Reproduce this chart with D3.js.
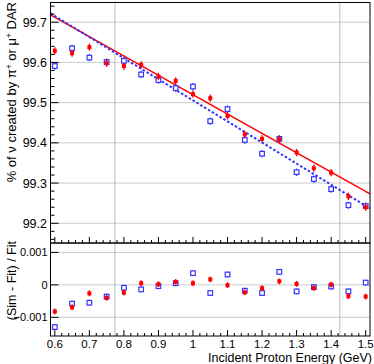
<!DOCTYPE html>
<html>
<head>
<meta charset="UTF-8">
<title>Neutrino DAR fraction vs proton energy</title>
<script src="https://cdn.jsdelivr.net/npm/d3@7/dist/d3.min.js"></script>
<style>
  body { margin: 0; background: #fff; }
  text { font-family: "Liberation Sans", Arial, sans-serif; }
</style>
</head>
<body>
<div id="chart"></div>
<script>
// incident proton energy (GeV)
var energy = [0.6, 0.65, 0.7, 0.75, 0.8, 0.85, 0.9, 0.95, 1.0, 1.05, 1.1, 1.15, 1.2, 1.25, 1.3, 1.35, 1.4, 1.45, 1.5];
// % of nu from pi+ / mu+ DAR, two simulations
var simRed  = [99.629, 99.623, 99.638, 99.598, 99.591, 99.594, 99.565, 99.554, 99.521, 99.511, 99.467, 99.421, 99.410, 99.409, 99.376, 99.337, 99.326, 99.267, 99.240];
var simBlue = [99.591, 99.635, 99.612, 99.601, 99.604, 99.570, 99.556, 99.536, 99.540, 99.454, 99.484, 99.407, 99.373, 99.410, 99.327, 99.310, 99.285, 99.245, 99.243];
var errTop = 0.009;
// linear fit end points
var fitX    = [0.5875, 1.5125];
var fitRed  = [99.718, 99.273];
var fitBlue = [99.722, 99.237];
// (Sim - Fit) / Fit
var resRed  = [-0.00082, -0.00069, -0.00026, -0.00040, -0.00024, 0.00005, 0.00002, 0.00009, 0.00005, 0.00017, -0.00001, -0.00023, -0.00010, 0.00011, 0.00003, -0.00010, 0.00001, -0.00035, -0.00036];
var resBlue = [-0.00130, -0.00058, -0.00055, -0.00036, -0.00009, -0.00014, -0.00004, 0.00005, 0.00036, -0.00025, 0.00032, -0.00018, -0.00025, 0.00040, -0.00020, -0.00007, -0.00005, -0.00020, 0.00007];
var errRes = 0.00009;
// tick labels
var xTicks = [0.6, 0.7, 0.8, 0.9, 1.0, 1.1, 1.2, 1.3, 1.4, 1.5];
var yTopTicks = [99.2, 99.3, 99.4, 99.5, 99.6, 99.7];
var yResTicks = [-0.001, 0, 0.001];
var yResLabels = ["\u22120.001", "0", "0.001"];
// light vertical lines
var vLines = [0.774, 1.425];

var W = 374, H = 364;
var L = 50.5, R = 370, T1 = 2.5, B1 = 243, T2 = 243, B2 = 336;
var RED = "#ff0000", BLUE = "#3434ff";

var svg = d3.select("#chart").append("svg").attr("width", W).attr("height", H);

var x = d3.scaleLinear().domain([0.5875, 1.5125]).range([L, R]);
var yTop = d3.scaleLinear().domain([99.151, 99.749]).range([B1, T1]);
var yRes = d3.scaleLinear().domain([-0.001575, 0.00129]).range([B2, T2]);

//vertical light lines through both pads
svg.selectAll(".vline").data(vLines).enter().append("line")
   .attr("x1", d => x(d)).attr("x2", d => x(d))
   .attr("y1", T1).attr("y2", B2)
   .attr("stroke", "#c8c8c8").attr("stroke-width", 1.2);

//horizontal dotted grids
svg.selectAll(".gtop").data(yTopTicks).enter().append("line")
   .attr("x1", L).attr("x2", R)
   .attr("y1", d => yTop(d)).attr("y2", d => yTop(d))
   .attr("stroke", "#999").attr("stroke-width", 1).attr("stroke-dasharray", "1,1");
svg.selectAll(".gres").data(yResTicks).enter().append("line")
   .attr("x1", L).attr("x2", R)
   .attr("y1", d => yRes(d)).attr("y2", d => yRes(d))
   .attr("stroke", "#999").attr("stroke-width", 1).attr("stroke-dasharray", "1,1");

//fit lines
var fitLine = d3.line().x(d => x(d[0])).y(d => yTop(d[1]));
svg.append("path").datum(d3.zip(fitX, fitRed)).attr("d", fitLine)
   .attr("fill", "none").attr("stroke", RED).attr("stroke-width", 1.5);
svg.append("path").datum(d3.zip(fitX, fitBlue)).attr("d", fitLine)
   .attr("fill", "none").attr("stroke", BLUE).attr("stroke-width", 2)
   .attr("stroke-dasharray", "2.5,2");

//markers with error bars
function drawPoints(vals, err, yScale, color, open) {
  var g = svg.append("g");
  var pts = d3.zip(energy, vals);
  g.selectAll("line").data(pts).enter().append("line")
   .attr("x1", d => x(d[0])).attr("x2", d => x(d[0]))
   .attr("y1", d => yScale(d[1] - err)).attr("y2", d => yScale(d[1] + err))
   .attr("stroke", color).attr("stroke-width", 1.3);
  if (open) {
    g.selectAll("rect").data(pts).enter().append("rect")
     .attr("x", d => x(d[0]) - 2.3).attr("y", d => yScale(d[1]) - 2.3)
     .attr("width", 4.6).attr("height", 4.6)
     .attr("fill", "#fff").attr("stroke", color).attr("stroke-width", 1.2);
  } else {
    g.selectAll("rect").data(pts).enter().append("rect")
     .attr("x", d => x(d[0]) - 2).attr("y", d => yScale(d[1]) - 2)
     .attr("width", 4).attr("height", 4)
     .attr("fill", color);
  }
}
drawPoints(simBlue, errTop, yTop, BLUE, true);
drawPoints(simRed, errTop, yTop, RED, false);
drawPoints(resBlue, errRes, yRes, BLUE, true);
drawPoints(resRed, errRes, yRes, RED, false);

//frames
svg.append("rect").attr("x", L).attr("y", T1).attr("width", R - L).attr("height", B1 - T1)
   .attr("fill", "none").attr("stroke", "#000").attr("stroke-width", 1);
svg.append("rect").attr("x", L).attr("y", T2).attr("width", R - L).attr("height", B2 - T2)
   .attr("fill", "none").attr("stroke", "#000").attr("stroke-width", 1);

//x ticks on both pads (pointing up)
var xMinor = d3.range(30, 76, 1).map(d => d / 50).filter(d => d >= 0.59 && d <= 1.51);
[B1, B2].forEach(function (yb) {
  svg.append("g").selectAll("line").data(xMinor).enter().append("line")
     .attr("x1", d => x(d)).attr("x2", d => x(d))
     .attr("y1", yb).attr("y2", d => yb - (Math.abs(d * 10 - Math.round(d * 10)) < 1e-6 ? 6 : 3))
     .attr("stroke", "#000").attr("stroke-width", 1);
});

//y ticks top pad
var yMinor = d3.range(99.16, 99.75, 0.02).map(d => +d.toFixed(2));
svg.append("g").selectAll("line").data(yMinor).enter().append("line")
   .attr("x1", L).attr("x2", d => L + (Math.abs(d * 10 - Math.round(d * 10)) < 1e-6 ? 8 : 4))
   .attr("y1", d => yTop(d)).attr("y2", d => yTop(d))
   .attr("stroke", "#000").attr("stroke-width", 1);
svg.append("g").selectAll("text").data(yTopTicks).enter().append("text")
   .attr("x", 47).attr("y", d => yTop(d) + 4.5)
   .attr("text-anchor", "end").style("font-size", "12.5px")
   .text(d => d.toFixed(1));

//y ticks residual pad
svg.append("g").selectAll("line").data(yResTicks).enter().append("line")
   .attr("x1", L).attr("x2", L + 8)
   .attr("y1", d => yRes(d)).attr("y2", d => yRes(d))
   .attr("stroke", "#000").attr("stroke-width", 1);
svg.append("g").selectAll("text").data(yResTicks).enter().append("text")
   .attr("x", 47.5).attr("y", d => yRes(d) + 4)
   .attr("text-anchor", "end").style("font-size", "11px")
   .text((d, i) => yResLabels[i]);

//x tick labels
svg.append("g").selectAll("text").data(xTicks).enter().append("text")
   .attr("x", d => x(d)).attr("y", 347.5)
   .attr("text-anchor", "middle").style("font-size", "11.5px")
   .text(d => d === 1 ? "1" : d.toFixed(1));

//axis titles
svg.append("text").attr("x", 372).attr("y", 361.5)
   .attr("text-anchor", "end").style("font-size", "12.5px")
   .text("Incident Proton Energy (GeV)");

var yt = svg.append("text")
   .attr("transform", "translate(16,2) rotate(-90)")
   .attr("text-anchor", "end").style("font-size", "13px");
yt.append("tspan").text("% of \u03bd created by \u03c0");
yt.append("tspan").attr("dy", -4.5).style("font-size", "8.5px").text("+");
yt.append("tspan").attr("dy", 4.5).text(" or \u03bc");
yt.append("tspan").attr("dy", -4.5).style("font-size", "8.5px").text("+");
yt.append("tspan").attr("dy", 4.5).text(" DAR");

svg.append("text")
   .attr("transform", "translate(16,241) rotate(-90)")
   .attr("text-anchor", "end").style("font-size", "12.5px")
   .text("(Sim - Fit) / Fit");
</script>
</body>
</html>
